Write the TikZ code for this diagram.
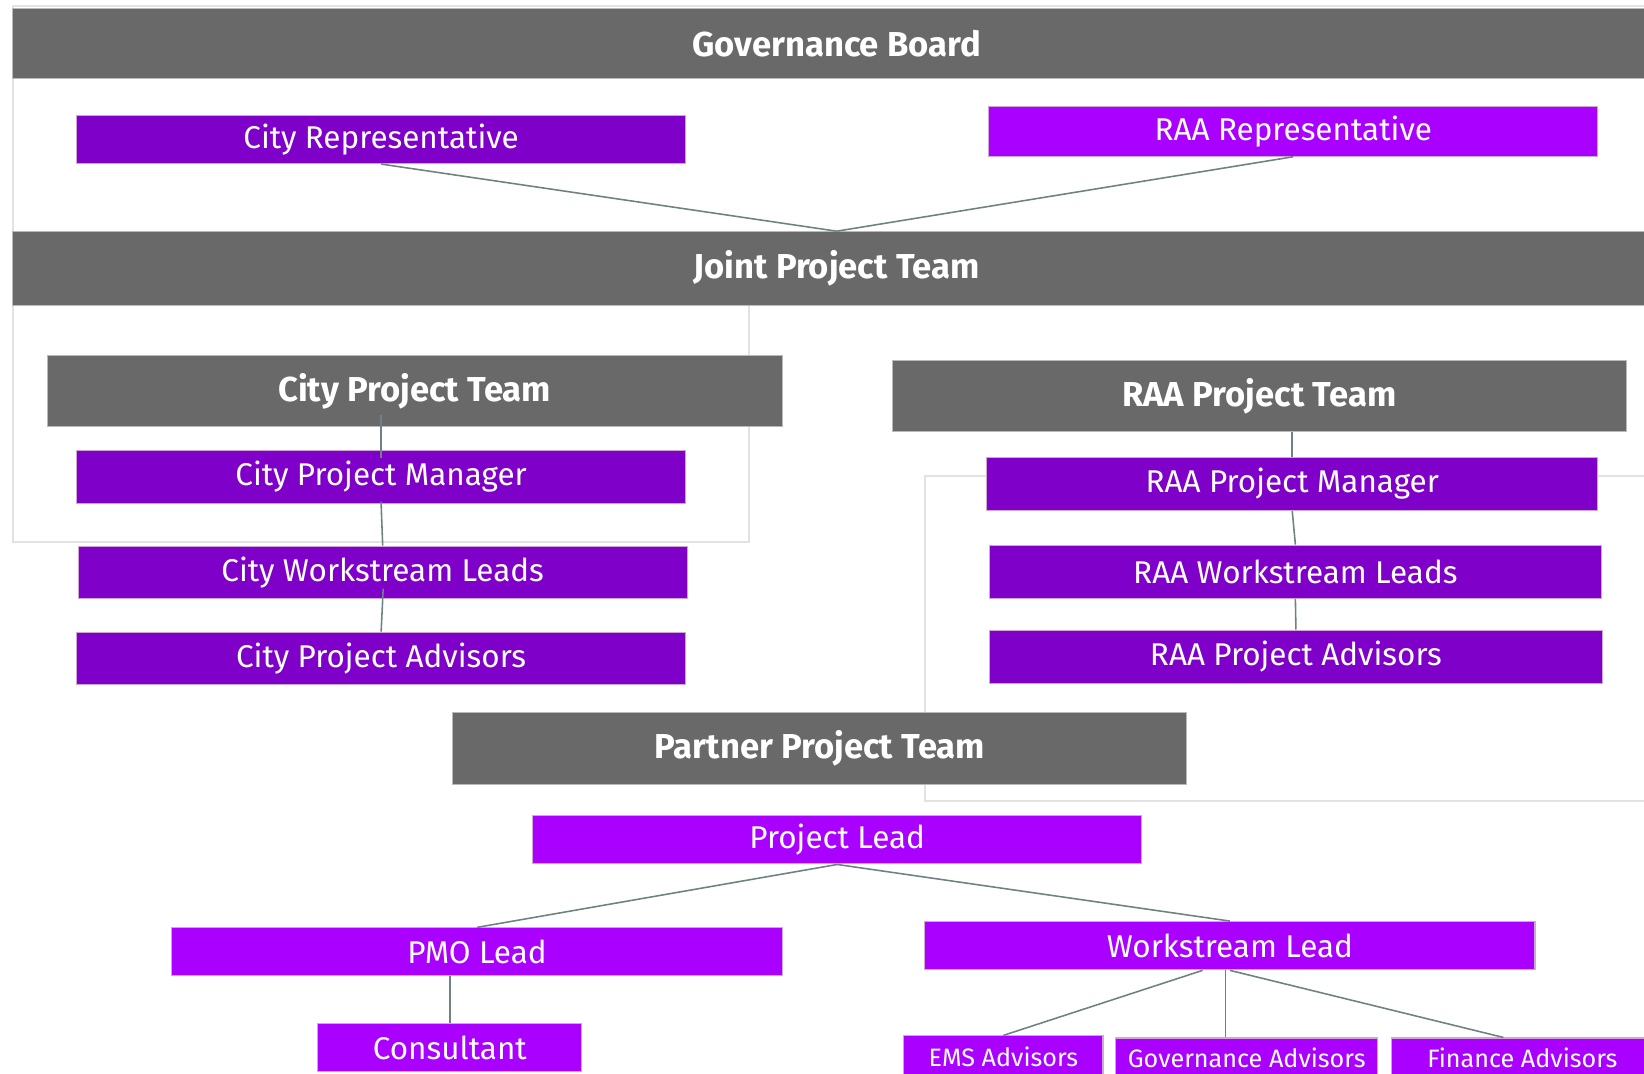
\documentclass[tikz,border=0pt]{standalone}
\usepackage{fontspec}
\setmainfont{Fira Sans}

\definecolor{barGray}{HTML}{696969}
\definecolor{darkViolet}{HTML}{7F00C8}
\definecolor{brightViolet}{HTML}{AA00FF}
\definecolor{frameGray}{HTML}{E2E2E2}
\definecolor{linkGray}{HTML}{6F8282}

\tikzset{
  teambar/.style={fill=barGray, draw=gray!55, line width=1pt, text=white,
    font=\bfseries\fontsize{33}{33}\selectfont, inner sep=0pt, minimum height=68pt},
  rolebox/.style={fill=darkViolet, draw=violet!35, line width=1pt, text=white,
    font=\fontsize{30}{30}\selectfont, inner sep=0pt, minimum height=50pt, minimum width=581pt},
  partbox/.style={rolebox, fill=brightViolet, minimum height=46pt},
  smallbox/.style={partbox, font=\fontsize{24}{24}\selectfont},
  link/.style={draw=linkGray, line width=1.5pt},
  frame/.style={draw=frameGray, line width=2pt},
}

\begin{document}
\begin{tikzpicture}[x=1pt, y=-1pt]
  \useasboundingbox (0,0) rectangle (1568,1024);

  % light frames behind the bars
  \draw[frame] (1568,6) -- (12,6) -- (12,221);
  \draw[frame] (12,221) rectangle (714,517);
  \draw[frame] (1600,454) -- (882,454) -- (882,764) -- (1600,764);

  % governance level
  \node[teambar, minimum width=1572pt, minimum height=67pt] (gb) at (798,41.5) {Governance Board};
  \node[rolebox, minimum height=46pt] (cityrep) at (363.5,133) {City Representative};
  \node[partbox, minimum height=47pt] (raarep) at (1233.5,125.5) {RAA Representative};
  \node[teambar, minimum width=1572pt, minimum height=70pt] (joint) at (798,256) {Joint Project Team};

  % city side
  \node[teambar, minimum width=701pt] (citypt) at (395.5,373) {City Project Team};
  \node[rolebox] (citypm) at (363.5,455) {City Project Manager};
  \node[rolebox] (cityws) at (365,546) {City Workstream Leads};
  \node[rolebox] (cityadv) at (363.5,628) {City Project Advisors};

  % raa side
  \node[teambar, minimum width=700pt] (raapt) at (1201,378) {RAA Project Team};
  \node[rolebox, minimum height=51pt, minimum width=583pt] (raapm) at (1232.5,461.5) {RAA Project Manager};
  \node[rolebox, minimum height=51pt, minimum width=583pt] (raaws) at (1235.5,545.5) {RAA Workstream Leads};
  \node[rolebox, minimum height=51pt, minimum width=584pt] (raaadv) at (1236,626.5) {RAA Project Advisors};

  % partner side
  \node[teambar, minimum width=700pt] (partner) at (782,714) {Partner Project Team};
  \node[partbox] (projlead) at (798.5,801) {Project Lead};
  \node[partbox, minimum width=582pt, minimum height=45pt] (pmo) at (455,907.5) {PMO Lead};
  \node[partbox, minimum width=582pt] (wslead) at (1173,902) {Workstream Lead};
  \node[partbox, minimum width=252pt] (consult) at (429,999) {Consultant};
  \node[smallbox, minimum width=190pt, minimum height=40pt] (ems) at (957,1008) {EMS Advisors};
  \node[smallbox, minimum width=250pt, minimum height=38pt] (govadv) at (1189,1009) {Governance Advisors};
  \node[smallbox, minimum width=250pt, minimum height=38pt] (finadv) at (1452,1009) {Finance Advisors};

  % connectors
  \draw[link] (cityrep.south) -- (joint.north);
  \draw[link] (raarep.south) -- (joint.north);
  \draw[link, shorten <=-12pt, shorten >=-7pt] (citypt.south -| citypm.north) -- (citypm.north);
  \draw[link, shorten <=-2pt] (citypm.south) -- (cityws.north);
  \draw[link, shorten <=-10pt] (cityws.south) -- (cityadv.north);
  \draw[link] (raapt.south -| raapm.north) -- (raapm.north);
  \draw[link] (raapm.south) -- (raaws.north);
  \draw[link] (raaws.south) -- (raaadv.north);
  \draw[link] (projlead.south) -- (pmo.north);
  \draw[link] (projlead.south) -- (wslead.north);
  \draw[link] (pmo.south -| consult.north) -- (consult.north);
  \draw[link] ([xshift=-26pt]wslead.south) -- (ems.north);
  \draw[link] ([xshift=-4pt]wslead.south) -- ([xshift=-20pt]govadv.north);
  \draw[link] (wslead.south) -- ([xshift=-18pt]finadv.north);
\end{tikzpicture}
\end{document}
